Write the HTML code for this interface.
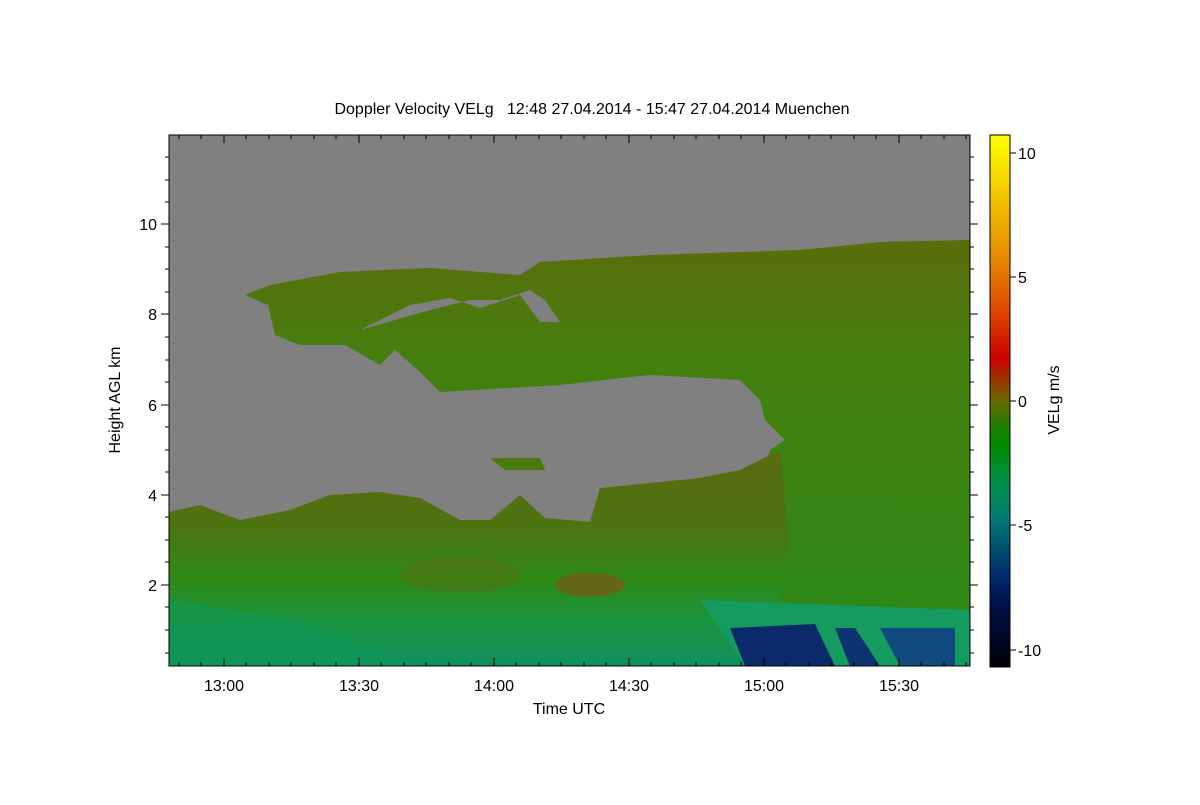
<!DOCTYPE html>
<html><head><meta charset="utf-8"><style>
body{margin:0;background:#fff;}
svg text{font-family:"Liberation Sans",sans-serif;fill:#000;}
</style></head><body>
<svg width="1200" height="800" xmlns="http://www.w3.org/2000/svg">
<defs>
<linearGradient id="cb" x1="0" y1="0" x2="0" y2="1">
<stop offset="0" stop-color="#ffff00"/>
<stop offset="0.22" stop-color="#e89000"/>
<stop offset="0.32" stop-color="#e05000"/>
<stop offset="0.42" stop-color="#cc0000"/>
<stop offset="0.5" stop-color="#6a6a00"/>
<stop offset="0.54" stop-color="#2a7a00"/>
<stop offset="0.58" stop-color="#008a00"/>
<stop offset="0.66" stop-color="#009050"/>
<stop offset="0.72" stop-color="#007a70"/>
<stop offset="0.82" stop-color="#003070"/>
<stop offset="0.88" stop-color="#00104a"/>
<stop offset="1" stop-color="#000008"/>
</linearGradient>
<linearGradient id="up" gradientUnits="userSpaceOnUse" x1="0" y1="240" x2="0" y2="666">
<stop offset="0" stop-color="#5a6e0c"/>
<stop offset="0.3" stop-color="#44800e"/>
<stop offset="1" stop-color="#2a8a1a"/>
</linearGradient>
<linearGradient id="low" x1="0" y1="0" x2="0" y2="1">
<stop offset="0" stop-color="#5a6a10"/>
<stop offset="0.35" stop-color="#4e7410"/>
<stop offset="0.6" stop-color="#2e8a18"/>
<stop offset="0.8" stop-color="#1a9440"/>
<stop offset="1" stop-color="#109060"/>
</linearGradient>
</defs>
<rect x="169" y="135" width="801" height="531" fill="#808080"/>
<polygon fill="url(#up)" points="245,295 270,285 340,272 430,268 520,275 540,262 650,255 800,250 880,242 970,240 970,666 700,666 770,450 785,440 765,420 760,400 740,380 650,375 560,385 440,392 420,372 395,350 380,365 345,345 300,345 275,335 268,305"/>
<polygon fill="#808080" points="360,330 410,305 450,298 480,308 520,295 540,322 560,322 545,300 530,290 500,300 470,300 430,310"/>
<polygon fill="url(#low)" points="169,512 200,505 240,520 290,510 330,495 380,492 420,498 460,520 490,520 520,495 545,518 590,522 600,488 700,478 740,470 770,455 780,450 790,560 760,666 169,666"/>
<polygon fill="#159a60" points="700,600 970,610 970,666 745,666"/>
<polygon fill="#0c2a6a" points="730,628 815,624 835,666 745,666"/>
<polygon fill="#0a3470" points="835,628 855,628 880,666 850,666"/>
<polygon fill="#124a80" points="880,628 955,628 955,666 900,666"/>
<ellipse cx="590" cy="585" rx="35" ry="12" fill="#8a5012" opacity="0.6"/>
<ellipse cx="460" cy="575" rx="60" ry="18" fill="#6a6210" opacity="0.35"/>
<polygon fill="#0e9a5a" opacity="0.5" points="169,600 300,620 420,666 169,666"/>
<polygon fill="#4a7a10" points="490,458 540,458 545,470 505,470"/>
<rect x="169" y="135" width="801" height="531" fill="none" stroke="#000" stroke-width="1"/>
<g stroke="#000" stroke-width="1">
<path d="M224,666v-8M359,666v-8M494,666v-8M629,666v-8M764,666v-8M899,666v-8 M224,135v8M359,135v8M494,135v8M629,135v8M764,135v8M899,135v8"/>
<path d="M179,666v-4M201,666v-4M246,666v-4M269,666v-4M291,666v-4M314,666v-4M336,666v-4M381,666v-4M404,666v-4M426,666v-4M449,666v-4M471,666v-4M516,666v-4M539,666v-4M561,666v-4M584,666v-4M606,666v-4M651,666v-4M674,666v-4M696,666v-4M719,666v-4M741,666v-4M786,666v-4M809,666v-4M831,666v-4M854,666v-4M876,666v-4M921,666v-4M944,666v-4M966,666v-4"/>
<path d="M179,135v4M201,135v4M246,135v4M269,135v4M291,135v4M314,135v4M336,135v4M381,135v4M404,135v4M426,135v4M449,135v4M471,135v4M516,135v4M539,135v4M561,135v4M584,135v4M606,135v4M651,135v4M674,135v4M696,135v4M719,135v4M741,135v4M786,135v4M809,135v4M831,135v4M854,135v4M876,135v4M921,135v4M944,135v4M966,135v4"/>
<path d="M169,585h-8M169,495h-8M169,405h-8M169,314h-8M169,224h-8 M970,585h8M970,495h8M970,405h8M970,314h8M970,224h8"/>
<path d="M169,157h-4M169,180h-4M169,202h-4M169,247h-4M169,269h-4M169,292h-4M169,337h-4M169,360h-4M169,382h-4M169,427h-4M169,450h-4M169,472h-4M169,517h-4M169,540h-4M169,562h-4M169,607h-4M169,630h-4M169,653h-4"/>
<path d="M970,157h4M970,180h4M970,202h4M970,247h4M970,269h4M970,292h4M970,337h4M970,360h4M970,382h4M970,427h4M970,450h4M970,472h4M970,517h4M970,540h4M970,562h4M970,607h4M970,630h4M970,653h4"/>
</g>
<g font-size="16" text-anchor="middle">
<text x="224" y="691">13:00</text><text x="359" y="691">13:30</text><text x="494" y="691">14:00</text><text x="629" y="691">14:30</text><text x="764" y="691">15:00</text><text x="899" y="691">15:30</text>
<text x="569" y="714">Time UTC</text>
<text x="592" y="114">Doppler Velocity VELg&#160;&#160;&#160;12:48 27.04.2014 - 15:47 27.04.2014 Muenchen</text>
</g>
<g font-size="16" text-anchor="end">
<text x="157" y="591">2</text><text x="157" y="501">4</text><text x="157" y="411">6</text><text x="157" y="320">8</text><text x="157" y="230">10</text>
</g>
<text font-size="16" transform="translate(120,400) rotate(-90)" text-anchor="middle">Height AGL km</text>
<rect x="990" y="135" width="20" height="532" fill="url(#cb)" stroke="#000" stroke-width="1"/>
<g stroke="#000"><path d="M1010,153h6M1010,277h6M1010,401h6M1010,525h6M1010,650h6"/></g>
<g font-size="16">
<text x="1018" y="159">10</text><text x="1018" y="283">5</text><text x="1018" y="407">0</text><text x="1018" y="531">-5</text><text x="1018" y="656">-10</text>
</g>
<text font-size="16" transform="translate(1059,400) rotate(-90)" text-anchor="middle">VELg m/s</text>
</svg>
</body></html>
